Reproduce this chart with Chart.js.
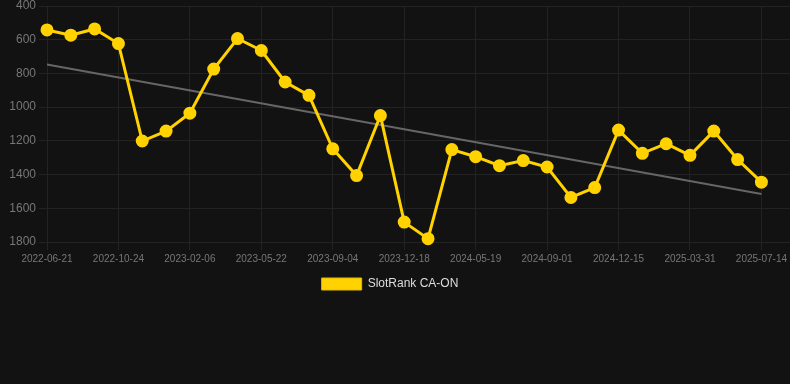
<!DOCTYPE html>
<html>
<head>
<meta charset="utf-8">
<script src="https://cdn.jsdelivr.net/npm/chart.js@4.4.0/dist/chart.umd.min.js"></script>
<style>
  html, body { margin: 0; padding: 0; background: #121212; }
  #wrap { position: relative; width: 790px; height: 300px; }
</style>
</head>
<body>
<div id="wrap"><canvas id="c"></canvas></div>
<script>
const dates = [
  "2022-06-21","2022-07-25","2022-09-19","2022-10-24","2022-11-28","2023-01-02",
  "2023-02-06","2023-03-13","2023-04-17","2023-05-22","2023-06-26","2023-07-31",
  "2023-09-04","2023-10-09","2023-11-13","2023-12-18","2024-02-05","2024-03-31",
  "2024-05-19","2024-06-23","2024-07-28","2024-09-01","2024-10-06","2024-11-10",
  "2024-12-15","2025-01-19","2025-02-23","2025-03-31","2025-05-05","2025-06-09",
  "2025-07-14"
];
const ranks = [
  542, 573, 536, 623, 1201, 1142, 1036, 774, 593, 664, 851, 930,
  1247, 1406, 1050, 1682, 1780, 1252, 1294, 1347, 1317, 1355, 1536, 1477,
  1136, 1274, 1217, 1286, 1142, 1311, 1445
];
const trendIdx = [0, 30];
const trendVals = [747, 1515];
const yTicks = [400, 600, 800, 1000, 1200, 1400, 1600, 1800];
const seriesName = "SlotRank CA-ON";

const lineData = ranks.map((v, i) => ({ x: i, y: v }));
const trendData = trendIdx.map((x, i) => ({ x: x, y: trendVals[i] }));

const legendShift = {
  id: 'legendShift',
  beforeDraw(chart) {
    if (chart.legend) chart.legend.right = chart.width - 10;
  }
};

new Chart(document.getElementById('c'), {
  type: 'line',
  data: {
    datasets: [
      { label: seriesName, data: lineData, borderColor: '#ffd200', backgroundColor: '#ffd200',
        borderWidth: 3, pointRadius: 5, pointHoverRadius: 5, pointBackgroundColor: '#ffd200',
        pointBorderColor: '#ffd200', tension: 0, order: 1, clip: false },
      { label: 'trend', data: trendData, borderColor: '#666666', borderWidth: 2, pointRadius: 0,
        fill: false, order: 2, clip: false }
    ]
  },
  plugins: [legendShift],
  options: {
    responsive: true, maintainAspectRatio: false, animation: false,
    layout: { padding: 0, autoPadding: false },
    scales: {
      x: {
        type: 'linear', min: 0, max: 31.2,
        afterBuildTicks: (s) => { s.ticks = dates.map((d, i) => ({ value: i })).filter(t => t.value % 3 === 0); },
        afterFit: (s) => { s.paddingLeft = 0; s.paddingRight = 0; },
        ticks: { color: '#777777', font: { size: 10, family: 'Liberation Sans, Arial, sans-serif' },
          maxRotation: 0, autoSkip: false, callback: (v) => dates[v] !== undefined ? dates[v] : '' },
        grid: { color: '#232323', tickColor: '#232323' }, border: { color: '#232323' }
      },
      y: {
        reverse: true, min: 400, max: 1800,
        afterBuildTicks: (s) => { s.ticks = yTicks.map(v => ({ value: v })); },
        afterFit: (s) => { s.width = 47; s.paddingTop = 6; },
        ticks: { color: '#777777', font: { size: 12, family: 'Liberation Sans, Arial, sans-serif' }, callback: (v) => String(v) },
        grid: { color: '#232323', tickColor: '#232323' }, border: { color: '#232323' }
      }
    },
    plugins: {
      legend: {
        position: 'bottom',
        labels: {
          color: '#dddddd',
          font: { size: 12, family: 'Liberation Sans, Arial, sans-serif' },
          boxWidth: 40,
          boxHeight: 12,
          filter: (item) => item.text === seriesName,
          generateLabels: (chart) => {
            const items = Chart.defaults.plugins.legend.labels.generateLabels(chart);
            items.forEach(it => { it.lineWidth = 1; it.strokeStyle = '#e0bc00'; });
            return items;
          }
        }
      },
      tooltip: { enabled: false }
    }
  }
});
</script>
</body>
</html>
